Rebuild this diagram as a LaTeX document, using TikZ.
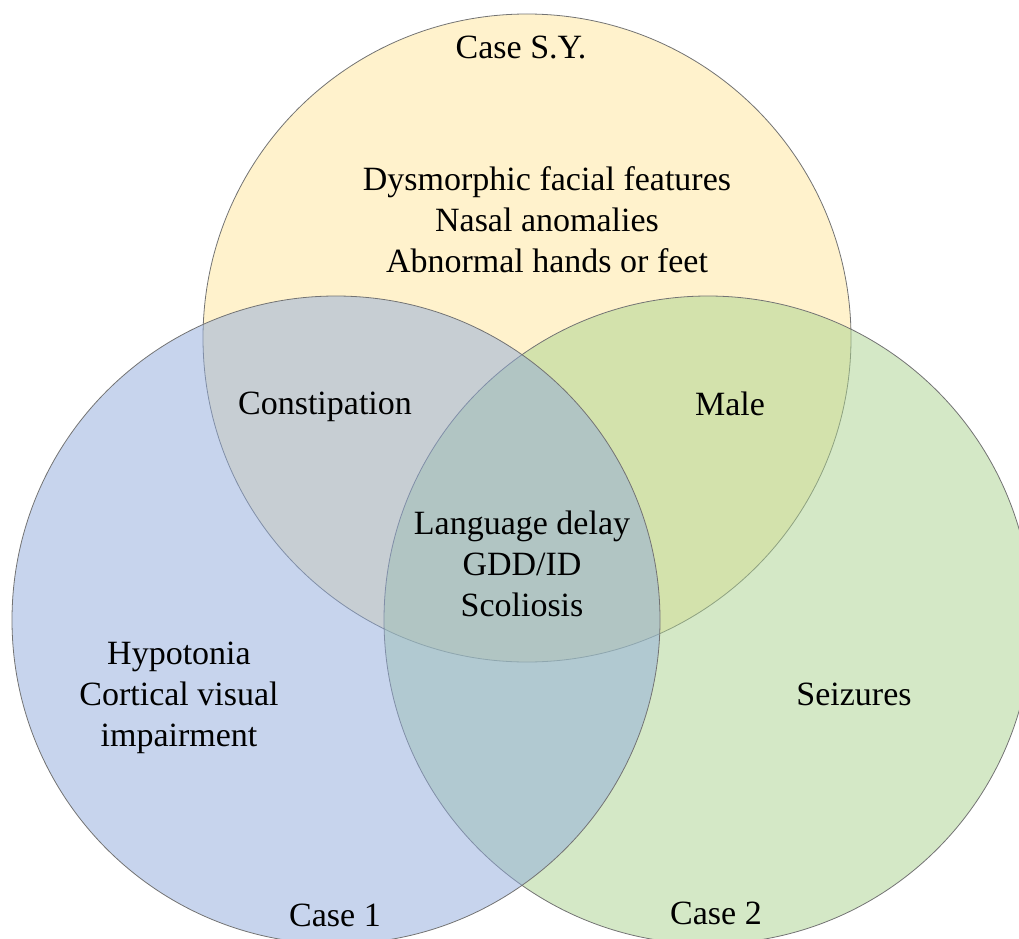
\documentclass[tikz,border=0pt]{standalone}
\usepackage{fontspec}
\setmainfont{Liberation Serif}
\usepackage{tikz}
\definecolor{sycolor}{RGB}{255,230,153}
\definecolor{c1color}{RGB}{143,170,220}
\definecolor{c2color}{RGB}{169,209,142}

\begin{document}
\begin{tikzpicture}[
    x=0.75pt, y=-0.75pt,
    set/.style={draw=black!55, line width=0.6pt, fill opacity=0.5},
    label/.style={align=center, inner sep=0pt, font=\fontsize{25.5}{30.75}\selectfont}
]
    \useasboundingbox (0,0) rectangle (1019,938);
    \clip (0,0) rectangle (1019,938);
    % circle centres
    \coordinate (sy) at (527,338);
    \coordinate (c1) at (336,620);
    \coordinate (c2) at (708,620);
    \filldraw[set, fill=sycolor] (sy) circle[radius=324];
    \filldraw[set, fill=c2color] (c2) circle[radius=324];
    \filldraw[set, fill=c1color] (c1) circle[radius=324];
    % labels
    \node[label] (nsy) at (521,47) {Case S.Y.};
    \node[label] (nsyonly) at (547,220) {Dysmorphic facial features\\Nasal anomalies\\Abnormal hands or feet};
    \node[label] (nconst) at (325,407) {Constipation};
    \node[label] (nmale) at (730,404) {Male};
    \node[label] (nall) at (522,564) {Language delay\\GDD/ID\\Scoliosis};
    \node[label] (nc1only) at (179,698) {Hypotonia\\Cortical visual\\impairment};
    \node[label] (nseiz) at (854,694) {Seizures};
    \node[label] (nc1) at (335,915) {Case 1};
    \node[label] (nc2) at (716,913) {Case 2};
\end{tikzpicture}
\end{document}
